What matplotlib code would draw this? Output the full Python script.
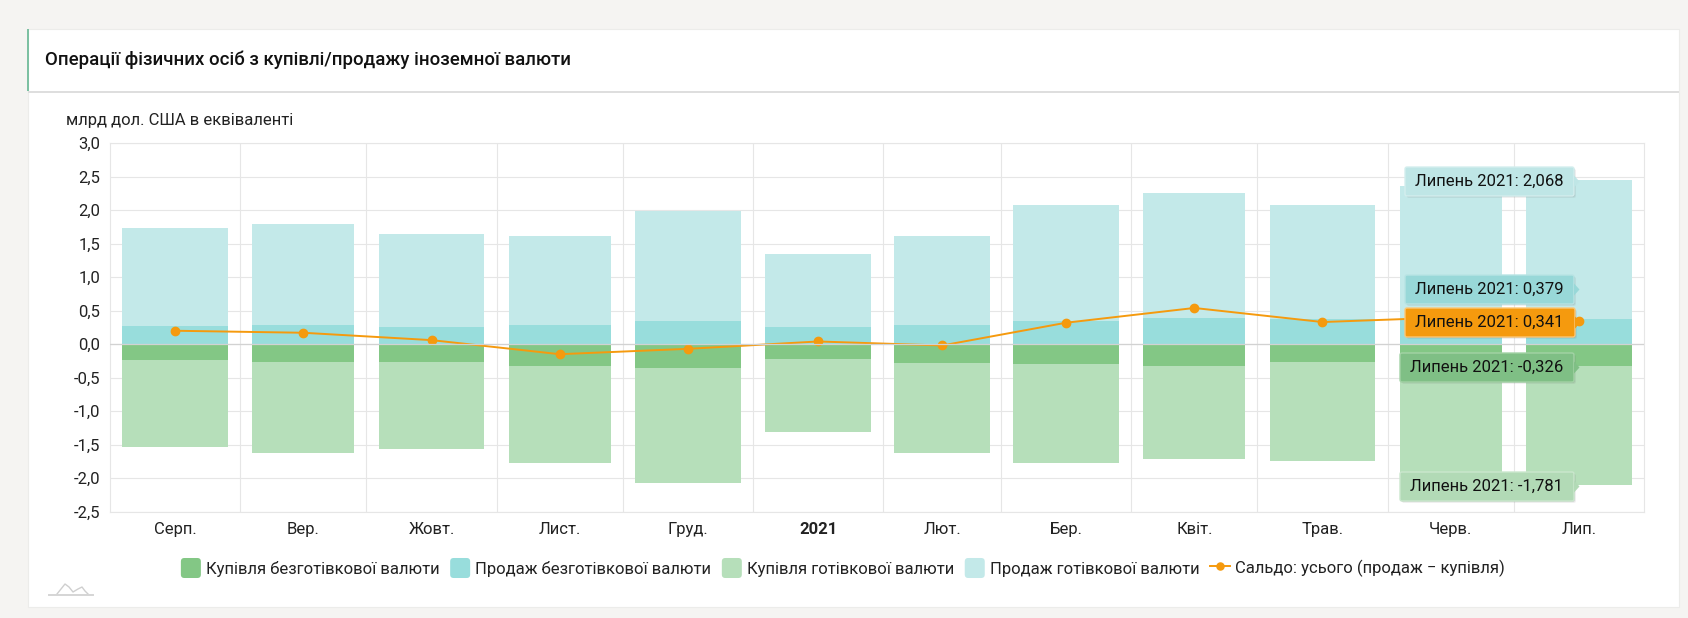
import matplotlib
matplotlib.use("Agg")
import matplotlib.pyplot as plt
import numpy as np
from matplotlib.patches import Rectangle, FancyBboxPatch, Polygon
from matplotlib.legend_handler import HandlerPatch
from matplotlib.container import BarContainer

plt.rcParams['font.family'] = ['Roboto', 'DejaVu Sans']

months = ['Серп.', 'Вер.', 'Жовт.', 'Лист.', 'Груд.', '2021', 'Лют.', 'Бер.', 'Квіт.', 'Трав.', 'Черв.', 'Лип.']
month_days = [31, 30, 31, 30, 31, 31, 28, 31, 30, 31, 30, 31]
buy_noncash = [-0.23, -0.27, -0.26, -0.33, -0.35, -0.22, -0.28, -0.30, -0.33, -0.27, -0.33, -0.326]
sell_noncash = [0.27, 0.29, 0.26, 0.28, 0.34, 0.26, 0.29, 0.35, 0.39, 0.37, 0.37, 0.379]
buy_cash = [-1.30, -1.35, -1.31, -1.45, -1.72, -1.09, -1.35, -1.47, -1.39, -1.47, -1.67, -1.781]
sell_cash = [1.47, 1.50, 1.38, 1.34, 1.65, 1.09, 1.32, 1.73, 1.86, 1.70, 1.99, 2.068]
balance = [0.20, 0.17, 0.06, -0.15, -0.07, 0.04, -0.02, 0.32, 0.54, 0.33, 0.40, 0.341]
y_ticks = [3.0, 2.5, 2.0, 1.5, 1.0, 0.5, 0.0, -0.5, -1.0, -1.5, -2.0, -2.5]
tooltips = ['Липень 2021: 2,068', 'Липень 2021: 0,379', 'Липень 2021: 0,341', 'Липень 2021: -0,326', 'Липень 2021: -1,781']
series_names = ['Купівля безготівкової валюти', 'Продаж безготівкової валюти', 'Купівля готівкової валюти',
                'Продаж готівкової валюти', 'Сальдо: усього (продаж − купівля)']
title = 'Операції фізичних осіб з купівлі/продажу іноземної валюти'
unit = 'млрд дол. США в еквіваленті'

C_BUY_NC, C_SELL_NC, C_BUY_C, C_SELL_C, C_BAL = '#83C785', '#98DDDC', '#B6DFBA', '#C3E9E9', '#F59A0E'
W, H = 1688, 618
TC = '#222222'
FS = 12.0

fig = plt.figure(figsize=(W / 100, H / 100), dpi=100, facecolor='#F5F4F2')

def px_axes(l, t, r, b, **kw):
    return fig.add_axes([l / W, 1 - b / H, (r - l) / W, (b - t) / H], **kw)

# page furniture
bg = px_axes(0, 0, W, H, zorder=0)
bg.set_xlim(0, W); bg.set_ylim(H, 0); bg.axis('off')
bg.add_patch(Rectangle((28, 29), 1651, 578, fc='white', ec='#ECECEA', lw=0.8))
bg.plot([28, 1679], [91.5, 91.5], color='#DEDEDE', lw=1.4, solid_capstyle='butt')
bg.plot([28, 28], [29, 91], color='#79BFA0', lw=1.4, solid_capstyle='butt')
bg.text(45, 60, title, fontsize=13.45, fontweight='medium', color='#111111', va='center', ha='left')
bg.text(65.5, 121, unit, fontsize=FS, color=TC, va='center', ha='left')
bg.plot([57, 61, 65, 69, 73, 78, 82, 85, 88], [594, 589, 584, 587, 592, 589, 587, 591, 594], color='#CFCFCF', lw=1)
bg.plot([49, 93], [594.5, 594.5], color='#D5D5D5', lw=1.4)

# chart
ax = px_axes(110, 143.2, 1644, 511.6, zorder=1)
ax.patch.set_alpha(0)
days = np.array(month_days, dtype=float)
edges = np.concatenate([[0], np.cumsum(days)])
centers = edges[:-1] + days / 2
widths = days * 0.81
b1 = ax.bar(centers, buy_noncash, widths, color=C_BUY_NC, zorder=2)
b2 = ax.bar(centers, sell_noncash, widths, color=C_SELL_NC, zorder=2)
b3 = ax.bar(centers, buy_cash, widths, bottom=buy_noncash, color=C_BUY_C, zorder=2)
b4 = ax.bar(centers, sell_cash, widths, bottom=sell_noncash, color=C_SELL_C, zorder=2)
line, = ax.plot(centers, balance, color=C_BAL, lw=1.4, marker='o', ms=6, zorder=3)
ax.set_xlim(edges[0], edges[-1])
ax.set_ylim(-2.5, 3.0)
ax.set_yticks(y_ticks)
ax.set_yticklabels([f'{v:.1f}'.replace('.', ',') for v in y_ticks], fontsize=FS, color=TC)
ax.set_xticks(edges[1:-1], minor=False)
ax.set_xticklabels([])
ax.grid(True, color='#E6E6E6', lw=0.8, zorder=1)
ax.set_axisbelow(True)
ax.tick_params(length=0, pad=7)
for s in ax.spines.values():
    s.set_color('#E6E6E6'); s.set_linewidth(0.8)
for c, m in zip(centers, months):
    ax.annotate(m, (c, 0), xycoords=('data', 'axes fraction'), xytext=(0, -18), textcoords='offset pixels',
                ha='center', va='center', fontsize=FS, color=TC, fontweight='bold' if m == '2021' else 'normal')
ax.axhline(0, color='#D2D2D2', lw=0.9, zorder=4)


class RoundedSwatch(HandlerPatch):
    def create_artists(self, legend, orig, xd, yd, width, height, fontsize, trans):
        face = orig.patches[0].get_facecolor()
        p = FancyBboxPatch((-xd, -yd), width, height, boxstyle='round,pad=0,rounding_size=2.5',
                           fc=face, ec='none', transform=trans)
        return [p]


leg = ax.legend([b1, b2, b3, b4, line], series_names, loc='center',
                bbox_to_anchor=((843 - 110) / 1534, (511.6 - 568) / 368.4), ncol=5, frameon=False,
                fontsize=FS, handlelength=1.2, handleheight=1.47, handletextpad=0.32, columnspacing=0.62,
                labelcolor=TC, markerscale=0.85, handler_map={BarContainer: RoundedSwatch()})

# tooltips of the last month
ov = px_axes(0, 0, W, H, zorder=5)
ov.set_xlim(0, W); ov.set_ylim(H, 0); ov.axis('off'); ov.patch.set_alpha(0)
boxes = [(1405, 167, 1574, 196, '#BFE6E6', '#D4EEEE'), (1405, 275, 1574, 304, '#98D8D8', '#B8E4E4'),
         (1405, 308, 1575, 337, C_BAL, '#FCC777'), (1400, 353, 1574, 382, '#7FBF85', '#A3D3A6'),
         (1400, 472, 1574, 501, '#B2DAB6', '#CBE7CE')]
for (x0, y0, x1, y1, col, edge), txt in zip(boxes, tooltips):
    ym = (y0 + y1) / 2
    for d, a in ((2.0, 0.08), (1.2, 0.12), (0.6, 0.16)):
        ov.add_patch(FancyBboxPatch((x0 + d, y0 + d), x1 - x0, y1 - y0, boxstyle='round,pad=0,rounding_size=2',
                                    fc='#666666', ec='none', alpha=a))
    ov.add_patch(FancyBboxPatch((x0, y0), x1 - x0, y1 - y0, boxstyle='round,pad=0,rounding_size=2', fc=col, ec=edge, lw=1))
    ov.add_patch(Polygon([(x1, ym - 6), (x1 + 5.5, ym), (x1, ym + 6)], fc=col, ec='none', zorder=3))
    ov.text(x0 + 10, ym, txt, fontsize=FS, color='#111111', ha='left', va='center')

fig.savefig('out.png', dpi=100, facecolor=fig.get_facecolor())
